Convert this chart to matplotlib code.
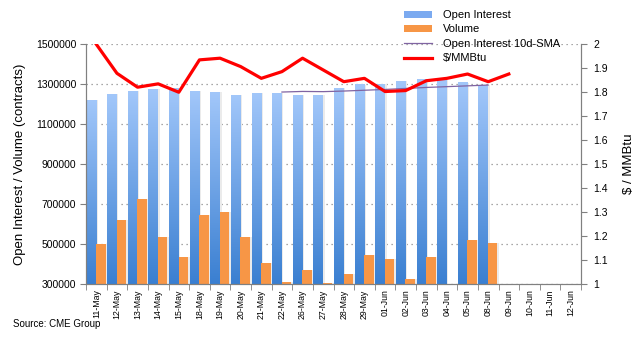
# -*- coding: utf-8 -*-
"""
Open interest, volume and price chart (natural gas futures).
"""

import matplotlib
matplotlib.use("Agg")
import matplotlib.pyplot as plt
from matplotlib.colors import LinearSegmentedColormap
from matplotlib.patches import Patch
from matplotlib.lines import Line2D
import numpy as np

plt.rcParams['font.family'] = ['Liberation Sans', 'DejaVu Sans']

# Datos
dates = ["11-May", "12-May", "13-May", "14-May", "15-May", "18-May", "19-May",
         "20-May", "21-May", "22-May", "26-May", "27-May", "28-May", "29-May",
         "01-Jun", "02-Jun", "03-Jun", "04-Jun", "05-Jun", "08-Jun", "09-Jun",
         "10-Jun", "11-Jun", "12-Jun"]

open_interest = [1221000, 1251000, 1266000, 1276000, 1280000, 1266000, 1261000,
                 1246000, 1256000, 1256000, 1246000, 1246000, 1281000, 1298000,
                 1301000, 1316000, 1326000, 1321000, 1308000, 1296000]

volume = [501000, 621000, 726000, 536000, 436000, 646000, 658000,
          535000, 406000, 311000, 371000, 306000, 351000, 446000,
          426000, 326000, 436000, np.nan, 521000, 506000]

oi_sma = [np.nan] * 9 + [1261000, 1264000, 1263000, 1266000, 1270000,
                         1274000, 1279000, 1284000, 1288000, 1292000, 1296000]

price = [2.00, 1.879, 1.821, 1.835, 1.800, 1.935, 1.942, 1.907, 1.858, 1.886,
         1.942, 1.893, 1.844, 1.858, 1.803, 1.807, 1.848, 1.858, 1.876, 1.844,
         1.876]

left_ticks = [300000, 500000, 700000, 900000, 1100000, 1300000, 1500000]
right_ticks = [1, 1.1, 1.2, 1.3, 1.4, 1.5, 1.6, 1.7, 1.8, 1.9, 2]

GREY = '#808080'
ORANGE = '#F79646'
RED = '#FF0000'
PURPLE = '#8064A2'
blue_cmap = LinearSegmentedColormap.from_list('oi', ['#3A7FD1', '#A2C7FA'])

fig = plt.figure(figsize=(6.39, 3.62), dpi=100)
ax = fig.add_axes([86 / 639, 1 - 284 / 362, 495 / 639, (284 - 44.3) / 362])
ax2 = ax.twinx()

x = np.arange(len(dates))
x_oi = x[:len(open_interest)] - 0.24
x_vol = x[:len(volume)] + 0.22
w = 0.46
y0 = 300000

# Sombras
ax.bar(x_oi + 0.08, np.array(open_interest) - y0, w, bottom=y0,
       color='#EBEBEB', zorder=1.5)
ax.bar(x_vol + 0.08, np.array(volume) - y0, w, bottom=y0,
       color='#EBEBEB', zorder=1.5)

# Barras de open interest con degradado
grad = np.linspace(0, 1, 256).reshape(-1, 1)
for xi, h in zip(x_oi, open_interest):
    ax.imshow(grad, extent=(xi - w / 2, xi + w / 2, y0, h), origin='lower',
              aspect='auto', cmap=blue_cmap, zorder=2)

# Volumen
ax.bar(x_vol, np.array(volume) - y0, w, bottom=y0, color=ORANGE, zorder=2)

# Media móvil
ax.plot(x[:len(oi_sma)], oi_sma, color=PURPLE, lw=0.9, zorder=3)

ax.set_xlim(-0.5, len(dates) - 0.5)
ax.set_ylim(300000, 1500000)
ax.set_yticks(left_ticks)
ax.set_yticklabels([str(v) for v in left_ticks], fontsize=7.5)
ax.grid(axis='y', color='#8C8C8C', linestyle=(0, (1, 3)), lw=0.9, zorder=0)
ax.set_axisbelow(True)

ax.set_xticks(x)
ax.set_xticklabels(dates, rotation=90, fontsize=6.3)
ax.set_xticks(np.arange(-0.5, len(dates)), minor=True)
ax.tick_params(axis='x', which='major', length=0, pad=4)
ax.tick_params(axis='x', which='minor', length=4, color=GREY, direction='out')
ax.tick_params(axis='y', length=4, color=GREY, direction='out', pad=3)

ax.set_ylabel("Open Interest / Volume (contracts)", fontsize=9.5, labelpad=7)

# Precio
ax2.plot(x[:len(price)], price, color=RED, lw=2.3, zorder=4,
         solid_joinstyle='round')
ax2.set_ylim(1, 2)
ax2.set_yticks(right_ticks)
ax2.set_yticklabels([f"{v:g}" for v in right_ticks], fontsize=7.5)
ax2.tick_params(axis='y', length=4, color=GREY, direction='out', pad=5)
ax2.set_ylabel("$ / MMBtu", fontsize=9.5, labelpad=11)

for a in (ax, ax2):
    a.spines['top'].set_visible(False)
    for s in ('left', 'right', 'bottom'):
        a.spines[s].set_color(GREY)

handles = [Patch(facecolor='#7BAAF0', edgecolor='none'),
           Patch(facecolor=ORANGE, edgecolor='none'),
           Line2D([], [], color=PURPLE, lw=0.9),
           Line2D([], [], color=RED, lw=2.3)]
labels = ["Open Interest", "Volume", "Open Interest 10d-SMA", "$/MMBtu"]
fig.legend(handles, labels, loc='upper left', bbox_to_anchor=(404 / 639, 1 - 10 / 362),
           frameon=False, fontsize=8, handlelength=2.5, handleheight=0.6,
           handletextpad=1.0, labelspacing=0.4, borderpad=0, borderaxespad=0)

fig.text(13 / 639, 1 - 324 / 362, "Source: CME Group", fontsize=7,
         va='center', ha='left')

fig.savefig("out.png", dpi=100)
